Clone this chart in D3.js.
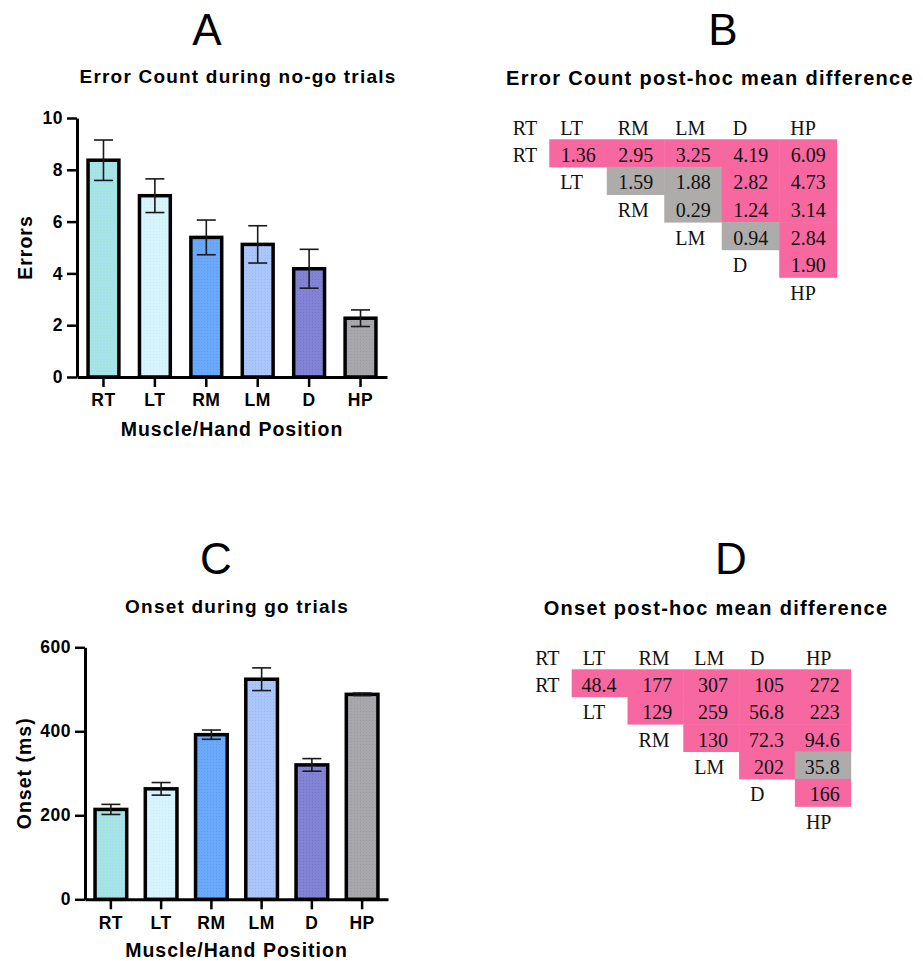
<!DOCTYPE html>
<html>
<head>
<meta charset="utf-8">
<script src="https://cdn.jsdelivr.net/npm/d3@7"></script>
<style>
  body { margin: 0; background: #fff; }
  .sans { font-family: Arial, "Liberation Sans", sans-serif; }
  .serif { font-family: "Times New Roman", "Liberation Serif", serif; }
</style>
</head>
<body>
<div id="chart"></div>
<script>
// Categories (muscle / hand position)
var positions = ["RT", "LT", "RM", "LM", "D", "HP"];

// Panel A: error count during no-go trials (mean and SEM)
var errorMeans = [8.37, 7.0, 5.39, 5.12, 4.18, 2.27];
var errorSem = [0.78, 0.65, 0.67, 0.72, 0.75, 0.32];
var errorTicks = [0, 2, 4, 6, 8, 10];

// Panel C: onset during go trials (ms)
var onsetMeans = [214, 263, 392, 524, 320, 488];
var onsetSem = [12, 15, 11, 27, 15, 3];
var onsetTicks = [0, 200, 400, 600];

// Panel B: post-hoc mean differences for error count (upper triangle, row by row)
var errorDiff = [
  [1.36, 2.95, 3.25, 4.19, 6.09],
  [1.59, 1.88, 2.82, 4.73],
  [0.29, 1.24, 3.14],
  [0.94, 2.84],
  [1.90]
];
// 1 = significant (pink), 0 = not significant (grey)
var errorSig = [
  [1, 1, 1, 1, 1],
  [0, 0, 1, 1],
  [0, 1, 1],
  [0, 1],
  [1]
];

// Panel D: post-hoc mean differences for onset
var onsetDiff = [
  [48.4, 177, 307, 105, 272],
  [129, 259, 56.8, 223],
  [130, 72.3, 94.6],
  [202, 35.8],
  [166]
];
var onsetSig = [
  [1, 1, 1, 1, 1],
  [1, 1, 1, 1],
  [1, 1, 1],
  [1, 0],
  [1]
];

// Styles (base colour and dot colour of the bar texture)
var barColors = ["#a4e2ea", "#d7f4fc", "#6aa9fb", "#abc6fb", "#8383d6", "#a8a8ac"];
var dotColors = ["#b2eccb", "#c4ecfb", "#5d9bee", "#9cb6f2", "#7474c8", "#9a9aa0"];
var sigColor = "#f768a1";
var nsColor = "#aeabab";

var svg = d3.select("#chart")
  .append("svg")
  .attr("width", 923)
  .attr("height", 961);

// dotted texture used for the bars
var defs = svg.append("defs");
positions.forEach(function(p, i) {
  var pat = defs.append("pattern")
    .attr("id", "tex" + i)
    .attr("patternUnits", "userSpaceOnUse")
    .attr("width", 3)
    .attr("height", 3);
  pat.append("rect").attr("width", 3).attr("height", 3).attr("fill", barColors[i]);
  pat.append("rect").attr("width", 1).attr("height", 1).attr("fill", dotColors[i]);
});

// Bar chart with error bars
function barPanel(o) {
  var data = positions.map(function(p, i) {
    return { pos: p, mean: o.means[i], sem: o.sems[i], idx: i };
  });

  var x = d3.scaleBand()
    .domain(positions)
    .range([o.x0, o.x1])
    .paddingInner(o.padIn)
    .paddingOuter(o.padOut);

  var y = d3.scaleLinear()
    .domain([0, d3.max(o.ticks)])
    .range([o.y0, o.y1]);

  var g = svg.append("g").attr("class", "sans");

  // panel letter
  g.append("text")
    .attr("x", o.letterX)
    .attr("y", o.letterY)
    .attr("text-anchor", "middle")
    .style("font-size", "44px")
    .text(o.letter);

  // title
  g.append("text")
    .attr("x", o.titleX)
    .attr("y", o.titleY)
    .attr("text-anchor", "middle")
    .style("font-size", "19px")
    .style("font-weight", "bold")
    .style("letter-spacing", "1.2px")
    .text(o.title);

  // bars
  g.selectAll(".bar")
    .data(data)
    .enter()
    .append("rect")
    .attr("class", "bar")
    .attr("x", d => x(d.pos))
    .attr("y", d => y(d.mean))
    .attr("width", x.bandwidth())
    .attr("height", d => y(0) - y(d.mean))
    .attr("fill", d => "url(#tex" + d.idx + ")")
    .attr("stroke", "#000")
    .attr("stroke-width", 3.5);

  // error bars
  var eb = g.selectAll(".err")
    .data(data)
    .enter()
    .append("g")
    .attr("class", "err")
    .attr("stroke", "#1a1a1a")
    .attr("stroke-width", 1.6);

  eb.append("line")
    .attr("x1", d => x(d.pos) + x.bandwidth() / 2)
    .attr("x2", d => x(d.pos) + x.bandwidth() / 2)
    .attr("y1", d => y(d.mean - d.sem))
    .attr("y2", d => y(d.mean + d.sem));

  [-1, 1].forEach(function(s) {
    eb.append("line")
      .attr("x1", d => x(d.pos) + x.bandwidth() / 2 - 9.5)
      .attr("x2", d => x(d.pos) + x.bandwidth() / 2 + 9.5)
      .attr("y1", d => y(d.mean + s * d.sem))
      .attr("y2", d => y(d.mean + s * d.sem));
  });

  // axes
  var leftAxis = d3.axisLeft(y)
    .tickValues(o.ticks)
    .tickSize(10)
    .tickPadding(4)
    .tickSizeOuter(0);

  var bottomAxis = d3.axisBottom(x)
    .tickSize(10)
    .tickPadding(7)
    .tickSizeOuter(0);

  var ya = g.append("g")
    .attr("transform", `translate(${o.x0}, 0)`)
    .call(leftAxis);

  var xa = g.append("g")
    .attr("transform", `translate(0, ${o.y0})`)
    .call(bottomAxis);

  [ya, xa].forEach(function(a) {
    a.select(".domain").attr("stroke", "#000").attr("stroke-width", 3);
    a.selectAll(".tick line").attr("stroke", "#000").attr("stroke-width", 2.5);
    a.selectAll(".tick text")
      .attr("fill", "#000")
      .style("font-family", "Arial, 'Liberation Sans', sans-serif")
      .style("font-size", "17.5px")
      .style("font-weight", "bold")
      .style("letter-spacing", "0.5px");
  });

  // axis titles
  g.append("text")
    .attr("x", (o.x0 + o.x1) / 2)
    .attr("y", o.xTitleY)
    .attr("text-anchor", "middle")
    .style("font-size", "19.5px")
    .style("font-weight", "bold")
    .style("letter-spacing", "1px")
    .text("Muscle/Hand Position");

  g.append("text")
    .attr("transform", `translate(${o.yTitleX}, ${(o.y0 + o.y1) / 2}) rotate(-90)`)
    .attr("text-anchor", "middle")
    .style("font-size", "19.5px")
    .style("font-weight", "bold")
    .style("letter-spacing", "1px")
    .text(o.yTitle);
}

// Triangular post-hoc table
function tablePanel(o) {
  var cols = positions.slice(1);

  var x = d3.scaleBand()
    .domain(cols)
    .range([o.x0, o.x1]);

  var y = d3.scaleBand()
    .domain(positions)
    .range([o.y0, o.y0 + positions.length * o.rowH]);

  var fmt = d3.format(o.format);

  var cells = [];
  o.values.forEach(function(row, i) {
    row.forEach(function(v, j) {
      cells.push({ row: positions[i], col: cols[i + j], value: v, sig: o.sig[i][j] });
    });
  });

  var g = svg.append("g");

  g.append("text")
    .attr("class", "sans")
    .attr("x", o.letterX)
    .attr("y", o.letterY)
    .attr("text-anchor", "middle")
    .style("font-size", "44px")
    .text(o.letter);

  g.append("text")
    .attr("class", "sans")
    .attr("x", o.titleX)
    .attr("y", o.titleY)
    .attr("text-anchor", "middle")
    .style("font-size", "20px")
    .style("font-weight", "bold")
    .style("letter-spacing", "1.3px")
    .text(o.title);

  // cell backgrounds
  g.selectAll(".cell")
    .data(cells)
    .enter()
    .append("rect")
    .attr("class", "cell")
    .attr("x", d => x(d.col))
    .attr("y", d => y(d.row))
    .attr("width", x.bandwidth() + 0.5)
    .attr("height", y.bandwidth() + 0.5)
    .attr("fill", d => d.sig ? sigColor : nsColor);

  var t = g.append("g")
    .attr("class", "serif")
    .style("font-size", "20px")
    .attr("fill", "#111");

  // values, right aligned in their cell
  t.selectAll(".val")
    .data(cells)
    .enter()
    .append("text")
    .attr("class", "val")
    .attr("x", d => x(d.col) + x.bandwidth() - 11)
    .attr("y", d => y(d.row) + 22.4)
    .attr("text-anchor", "end")
    .text(d => fmt(d.value));

  // header row
  t.selectAll(".head")
    .data(positions)
    .enter()
    .append("text")
    .attr("class", "head")
    .attr("x", d => d === "RT" ? o.x0 - 36.5 : x(d) + 11)
    .attr("y", o.y0 - 4.3)
    .text(d => d);

  // diagonal row labels
  t.selectAll(".rowlab")
    .data(positions)
    .enter()
    .append("text")
    .attr("class", "rowlab")
    .attr("x", d => d === "RT" ? o.x0 - 36.5 : x(d) + 11)
    .attr("y", d => y(d) + 22.4)
    .text(d => d);
}

barPanel({
  means: errorMeans, sems: errorSem, ticks: errorTicks,
  x0: 77, x1: 387, y0: 377, y1: 118, padIn: 0.4, padOut: 0.215,
  letter: "A", letterX: 207, letterY: 45,
  title: "Error Count during no-go trials", titleX: 238, titleY: 83,
  xTitleY: 436, yTitleX: 32, yTitle: "Errors"
});

barPanel({
  means: onsetMeans, sems: onsetSem, ticks: onsetTicks,
  x0: 85, x1: 388, y0: 899.3, y1: 647.3, padIn: 0.37, padOut: 0.2,
  letter: "C", letterX: 216, letterY: 574,
  title: "Onset during go trials", titleX: 237, titleY: 613,
  xTitleY: 957, yTitleX: 31, yTitle: "Onset (ms)"
});

tablePanel({
  values: errorDiff, sig: errorSig, format: ".2f",
  x0: 549.3, x1: 836.7, y0: 139.3, rowH: 27.6,
  letter: "B", letterX: 723, letterY: 45,
  title: "Error Count post-hoc mean difference", titleX: 710, titleY: 85
});

tablePanel({
  values: onsetDiff, sig: onsetSig, format: ".3~g",
  x0: 571.7, x1: 850.7, y0: 669.3, rowH: 27.4,
  letter: "D", letterX: 731, letterY: 574,
  title: "Onset post-hoc mean difference", titleX: 716, titleY: 615
});
</script>
</body>
</html>
